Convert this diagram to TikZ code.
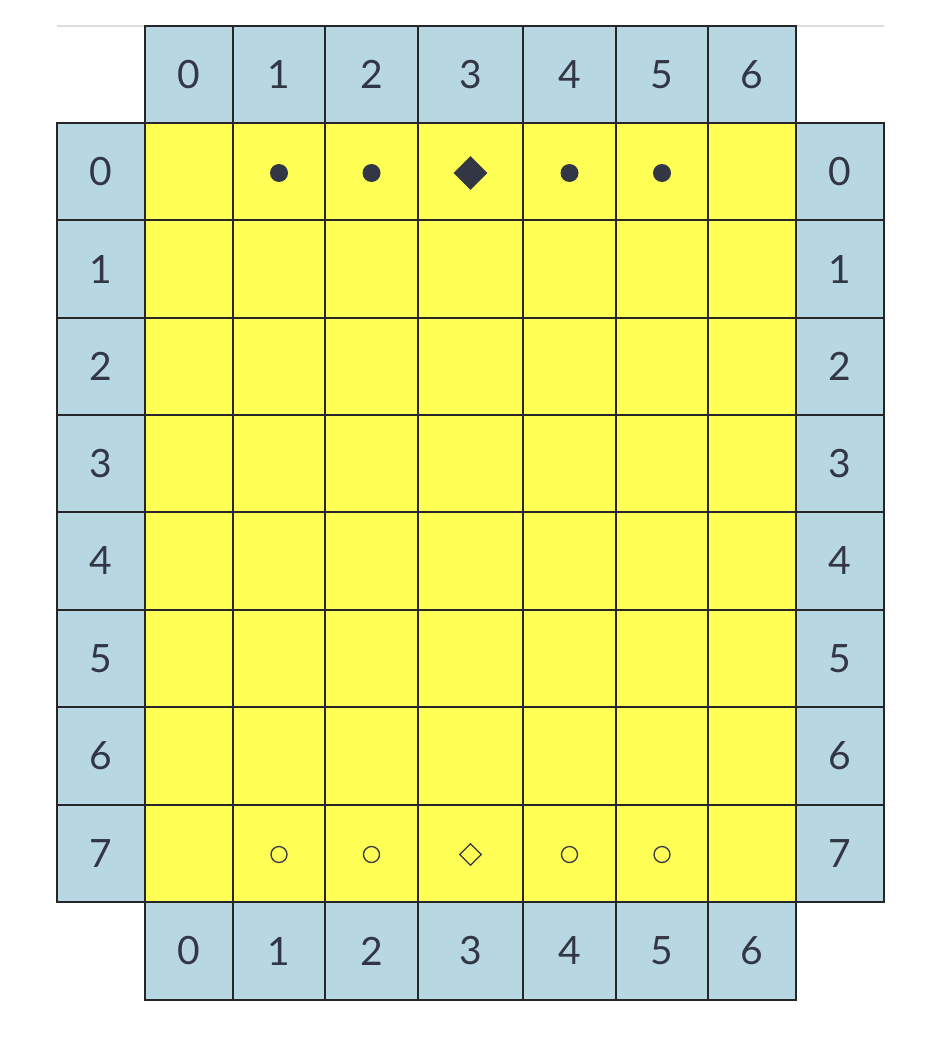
\documentclass[tikz,border=0pt]{standalone}
\usepackage{fontspec}
\setmainfont{Lato}
\usetikzlibrary{shapes.geometric}
\definecolor{headblue}{HTML}{B7D8E3}
\definecolor{boardyellow}{HTML}{FFFF55}
\definecolor{inkslate}{HTML}{333645}
\definecolor{rulegray}{HTML}{DDDDDD}

\begin{document}
\begin{tikzpicture}[x=1pt, y=-1pt,
  cellbox/.style={draw=black!85, line width=1.6pt, fill=boardyellow, rectangle,
    inner sep=0pt, outer sep=0pt},
  labelbox/.style={cellbox, fill=headblue, text=inkslate,
    font=\fontsize{39}{44}\selectfont},
  darkdot/.style={circle, fill=inkslate, inner sep=0pt, minimum size=18pt, yshift=-1.5pt},
  darkking/.style={diamond, fill=inkslate, inner sep=0pt, minimum size=34pt, yshift=-1.5pt},
  lightdot/.style={circle, draw=inkslate, line width=1.3pt, inner sep=0pt, minimum size=16pt, yshift=-1pt},
  lightking/.style={diamond, draw=inkslate, line width=1.3pt, inner sep=0pt, minimum size=22pt, yshift=-1pt}
]
\useasboundingbox (0,0) rectangle (930,1038);

% thin rule along the top
\coordinate (rule-left) at (57,26);
\coordinate (rule-right) at (884,26);
\draw[rulegray, line width=1.5pt] (rule-left) -- (rule-right);

% column labels, top and bottom
\foreach \c/\xl/\xr in {0/145/233,1/233/325,2/325/418,3/418/523,4/523/616,5/616/708,6/708/796}{
  \pgfmathsetmacro\w{\xr-\xl}
  \node[labelbox, minimum width=\w pt, minimum height=97pt] (top-\c)
    at ({(\xl+\xr)/2},74.5) {\c};
  \node[labelbox, minimum width=\w pt, minimum height=98pt] (bottom-\c)
    at ({(\xl+\xr)/2},951) {\c};
}

% row labels, left and right
\foreach \r/\yt/\yb in {0/123/220,1/220/318,2/318/415,3/415/512,4/512/610,5/610/707,6/707/805,7/805/902}{
  \pgfmathsetmacro\h{\yb-\yt}
  \node[labelbox, minimum width=88pt, minimum height=\h pt] (left-\r)
    at (101,{(\yt+\yb)/2}) {\r};
  \node[labelbox, minimum width=88pt, minimum height=\h pt] (right-\r)
    at (840,{(\yt+\yb)/2}) {\r};
}

% the board
\foreach \r/\yt/\yb in {0/123/220,1/220/318,2/318/415,3/415/512,4/512/610,5/610/707,6/707/805,7/805/902}{
  \foreach \c/\xl/\xr in {0/145/233,1/233/325,2/325/418,3/418/523,4/523/616,5/616/708,6/708/796}{
    \pgfmathsetmacro\w{\xr-\xl}
    \pgfmathsetmacro\h{\yb-\yt}
    \node[cellbox, minimum width=\w pt, minimum height=\h pt] (cell-\r-\c)
      at ({(\xl+\xr)/2},{(\yt+\yb)/2}) {};
  }
}

% pieces
\node[darkdot] (dark-1) at (cell-0-1) {};
\node[darkdot] (dark-2) at (cell-0-2) {};
\node[darkking] (dark-3) at (cell-0-3) {};
\node[darkdot] (dark-4) at (cell-0-4) {};
\node[darkdot] (dark-5) at (cell-0-5) {};

\node[lightdot] (light-1) at (cell-7-1) {};
\node[lightdot] (light-2) at (cell-7-2) {};
\node[lightking] (light-3) at (cell-7-3) {};
\node[lightdot] (light-4) at (cell-7-4) {};
\node[lightdot] (light-5) at (cell-7-5) {};
\end{tikzpicture}
\end{document}
